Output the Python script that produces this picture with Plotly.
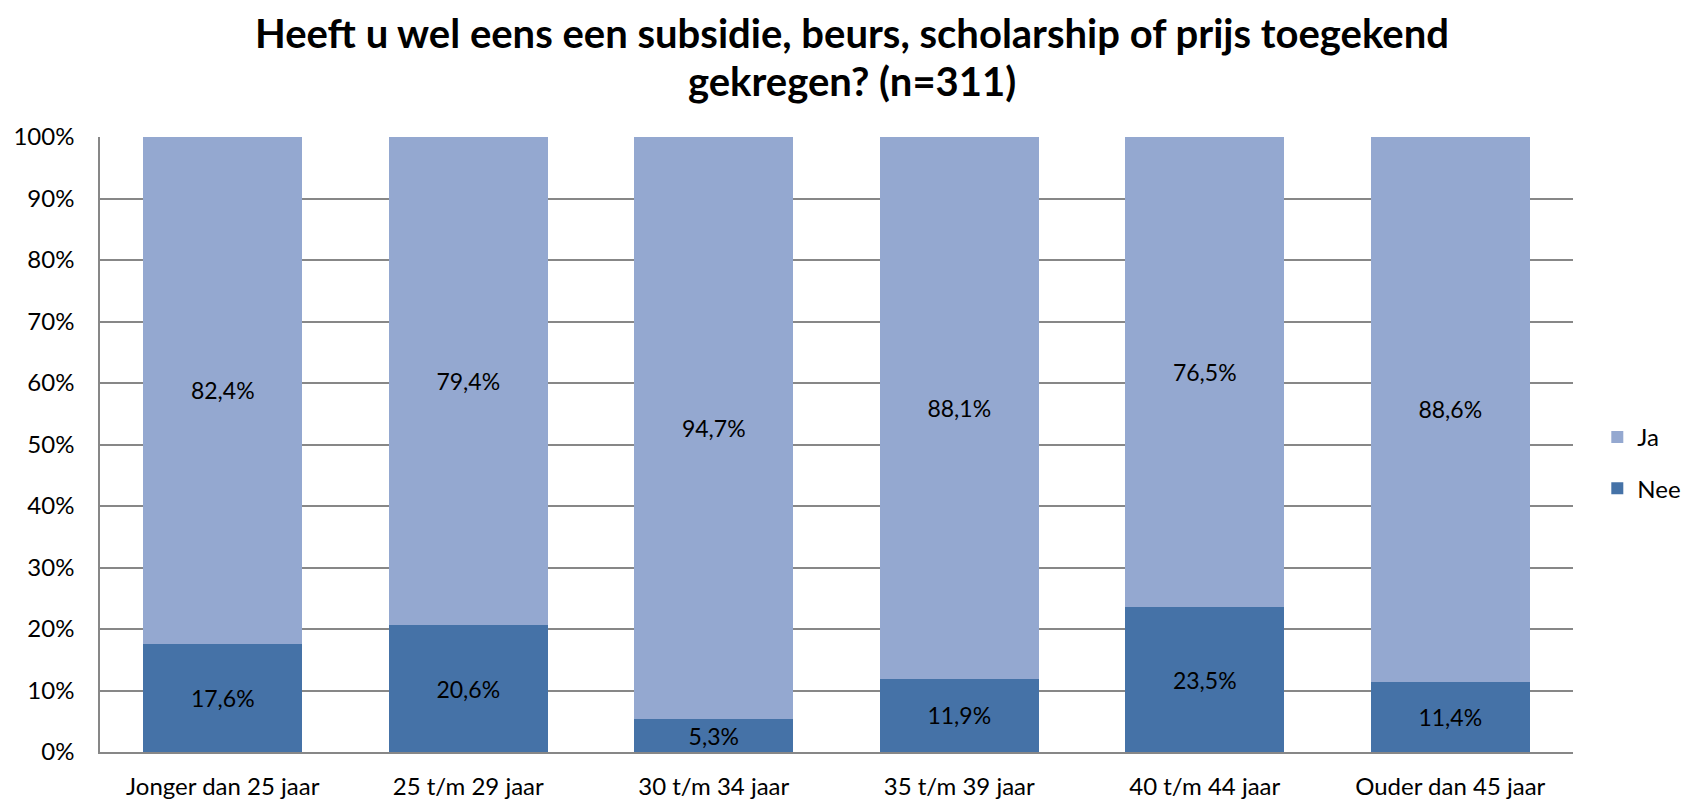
import plotly.graph_objects as go

categories = ["Jonger dan 25 jaar", "25 t/m 29 jaar", "30 t/m 34 jaar",
              "35 t/m 39 jaar", "40 t/m 44 jaar", "Ouder dan 45 jaar"]
nee = [17.6, 20.6, 5.3, 11.9, 23.5, 11.4]
ja = [82.4, 79.4, 94.7, 88.1, 76.5, 88.6]
y_ticks = [0, 10, 20, 30, 40, 50, 60, 70, 80, 90, 100]
title_lines = ["Heeft u wel eens een subsidie, beurs, scholarship of prijs toegekend",
               "gekregen? (n=311)"]

font_family = "Lato, 'Open Sans', sans-serif"

def fmt(v):
    return f"{v:.1f}".replace(".", ",") + "%"

fig = go.Figure()
fig.add_trace(go.Bar(
    x=categories, y=nee, name="Nee", legendgroup="nee", legendrank=2,
    marker=dict(color="#4572A7", line=dict(width=0)),
    text=[fmt(v) for v in nee], textposition="inside", insidetextanchor="middle",
    textfont=dict(color="black", size=23, family=font_family), constraintext="none",
))
fig.add_trace(go.Bar(
    x=categories, y=ja, name="Ja", legendgroup="ja", legendrank=1,
    marker=dict(color="#94A8D0", line=dict(width=0)),
    text=[fmt(v) for v in ja], textposition="inside", insidetextanchor="middle",
    textfont=dict(color="black", size=23, family=font_family), constraintext="none",
))

title_y = [1.1691, 1.0911]
annotations = [
    dict(text="<b>" + line + "</b>", xref="paper", yref="paper", x=0.5105, y=yy,
         xanchor="center", yanchor="middle", showarrow=False,
         font=dict(size=40, family=font_family, color="black"))
    for line, yy in zip(title_lines, title_y)
]

fig.update_layout(
    width=1689, height=802,
    barmode="stack", bargap=0.352,
    paper_bgcolor="white", plot_bgcolor="white",
    margin=dict(l=100, r=116, t=137, b=50, autoexpand=False),
    font=dict(family=font_family, size=24, color="black"),
    legend=dict(
        x=1.0165, xanchor="left", y=0.47, yanchor="middle",
        font=dict(size=24, family=font_family), traceorder="grouped",
        itemwidth=30, tracegroupgap=17,
    ),
    uniformtext=dict(mode=False),
    annotations=annotations,
)
fig.update_yaxes(
    range=[0, 100], tickvals=y_ticks, ticktext=[f"{v}%" for v in y_ticks],
    showgrid=True, gridcolor="#878787", gridwidth=1.5,
    showline=True, linecolor="#878787", linewidth=1.5,
    ticks="", ticklabelstandoff=19, zeroline=False, automargin=False,
    tickfont=dict(size=24),
)
fig.update_xaxes(
    showline=True, linecolor="#878787", linewidth=1.5,
    ticks="", ticklabelstandoff=12, tickfont=dict(size=24), automargin=False,
)

fig.write_html("out.html", config={"displayModeBar": False},
               post_script="document.body.style.margin='0';document.body.style.overflow='hidden';")
